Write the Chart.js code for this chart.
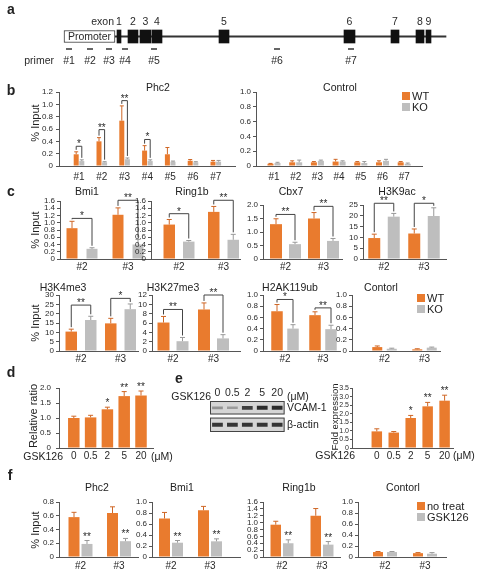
<!DOCTYPE html>
<html>
<head>
<meta charset="utf-8">
<script src="https://cdn.jsdelivr.net/npm/chart.js@4.4.0/dist/chart.umd.min.js"></script>
<style>
  html, body { margin: 0; background: #fff; overflow: hidden; }
  #fig { position: relative; width: 479px; height: 577px; font-family: "Liberation Sans", Arial, sans-serif; color: #222; }
  #fig canvas { position: absolute; }
  .t { position: absolute; white-space: nowrap; line-height: 1; }
  .sq { position: absolute; width: 8px; height: 8px; }
</style>
</head>
<body>
<div id="fig"></div>
<script>
// ---------- data ----------
const primers = ['#1', '#2', '#3', '#4', '#5', '#6', '#7'];
const sites = ['#2', '#3'];
const doses = ['0', '0.5', '2', '5', '20'];

// a: locus map (locus units)
const exonNames = ['1', '2', '3', '4', '5', '6', '7', '8', '9'];
const exonStart = [117, 128, 140, 152, 219, 344, 391, 416, 426];
const exonEnd   = [121, 138, 151, 162, 229, 355, 399, 424, 431];
const promoterSpan = [64, 115];
const locusSpan = [115, 446];
const primerPos = [69, 90, 109, 125, 154, 277, 351];

// b: % input along the locus
const phc2WT     = [0.19, 0.40, 0.735, 0.25, 0.19, 0.085, 0.07];
const phc2WTErr  = [0.04, 0.06, 0.24, 0.08, 0.11, 0.02, 0.02];
const phc2KO     = [0.08, 0.06, 0.11, 0.08, 0.07, 0.06, 0.07];
const phc2KOErr  = [0.02, 0.01, 0.02, 0.02, 0.01, 0.01, 0.02];
const phc2Sig    = ['*', '**', '**', '*', '', '', ''];
const phc2Bracket = [0.32, 0.59, 1.06, 0.43, null, null, null];
const ctlWT      = [0.03, 0.05, 0.05, 0.06, 0.05, 0.05, 0.05];
const ctlWTErr   = [0.005, 0.02, 0.01, 0.03, 0.01, 0.02, 0.01];
const ctlKO      = [0.04, 0.05, 0.07, 0.06, 0.04, 0.07, 0.03];
const ctlKOErr   = [0.01, 0.03, 0.01, 0.01, 0.02, 0.02, 0.01];

// c: marks at primers #2 / #3
const cMarks   = ['Bmi1', 'Ring1b', 'Cbx7', 'H3K9ac', 'H3K4me3', 'H3K27me3', 'H2AK119ub', 'Contorl'];
const cWT      = [[0.85, 1.22], [0.95, 1.30], [1.29, 1.50], [9.7, 11.8], [10.4, 14.8], [6.1, 8.9], [0.71, 0.64], [0.07, 0.03]];
const cWTErr   = [[0.19, 0.19], [0.14, 0.15], [0.20, 0.22], [1.8, 2.1], [1.3, 2.7], [1.3, 1.4], [0.12, 0.06], [0.02, 0.01]];
const cKO      = [[0.28, 0.40], [0.48, 0.53], [0.55, 0.67], [19.6, 19.9], [16.6, 22.4], [2.1, 2.7], [0.40, 0.39], [0.04, 0.06]];
const cKOErr   = [[0.03, 0.14], [0.03, 0.15], [0.07, 0.09], [1.5, 3.8], [2.0, 2.8], [0.8, 0.8], [0.07, 0.07], [0.01, 0.01]];
const cSig     = [['*', '**'], ['*', '**'], ['**', '**'], ['**', '*'], ['**', '*'], ['**', '**'], ['*', '**'], ['', '']];
const cBracket = [[1.12, 1.62], [1.25, 1.62], [1.65, 1.95], [25.8, 25.8], [24.6, 28.2], [8.9, 12], [0.92, 0.77], [null, null]];
const cAxisMax  = [1.6, 1.6, 2, 25, 30, 12, 1, 1];
const cAxisStep = [0.2, 0.2, 0.5, 5, 5, 2, 0.2, 0.2];

// d / e: GSK126 dose response
const ratio    = [1.00, 1.02, 1.29, 1.73, 1.75];
const ratioErr = [0.06, 0.07, 0.07, 0.15, 0.15];
const ratioSig = ['', '', '*', '**', '**'];
const fold     = [0.97, 0.90, 1.75, 2.43, 2.76];
const foldErr  = [0.15, 0.06, 0.15, 0.23, 0.32];
const foldSig  = ['', '', '*', '**', '**'];
const vcamBand  = [0.35, 0.30, 0.80, 0.90, 0.90];
const actinBand = [0.85, 0.85, 0.85, 0.85, 0.85];

// f: no treat vs GSK126
const fTargets    = ['Phc2', 'Bmi1', 'Ring1b', 'Contorl'];
const fNoTreat    = [[0.58, 0.64], [0.70, 0.85], [0.94, 1.20], [0.09, 0.07]];
const fNoTreatErr = [[0.07, 0.09], [0.11, 0.07], [0.10, 0.21], [0.01, 0.01]];
const fGSK        = [[0.19, 0.23], [0.26, 0.285], [0.40, 0.36], [0.09, 0.06]];
const fGSKErr     = [[0.05, 0.04], [0.04, 0.045], [0.10, 0.09], [0.01, 0.02]];
const fSig        = [['**', '**'], ['**', '**'], ['**', '**'], ['', '']];
const fAxisMax    = [0.8, 1, 1.6, 1];

// ---------- styling / layout ----------
const ORANGE = '#E97B2E', GREY = '#BEBEBE', ORANGE_ERR = '#CF6726', GREY_ERR = '#999';
const AXIS = '#555', INK = '#2a2a2a';
const FONT = '"Liberation Sans", Arial, sans-serif';
const YW = 26, PT = 22, PR = 4, XH = 20;
const fig = document.getElementById('fig');

function mk(x, y, w, h) {
  const c = document.createElement('canvas');
  w = Math.round(w); h = Math.round(h);
  c.width = w; c.height = h;
  c.style.left = Math.round(x) + 'px'; c.style.top = Math.round(y) + 'px';
  c.style.width = w + 'px'; c.style.height = h + 'px';
  fig.appendChild(c);
  return c;
}

function txt(s, x, y, size, opt) {
  opt = opt || {};
  const d = document.createElement('div');
  d.className = 't';
  d.textContent = s;
  d.style.left = x + 'px';
  d.style.top = y + 'px';
  d.style.fontSize = size + 'px';
  if (opt.bold) d.style.fontWeight = 'bold';
  const ax = opt.align === 'l' ? '0' : opt.align === 'r' ? '-100%' : '-50%';
  d.style.transform = 'translate(' + ax + ',-50%)' + (opt.rot ? ' rotate(-90deg)' : '');
  fig.appendChild(d);
}

function legend(x, y, items) {
  items.forEach((it, i) => {
    const s = document.createElement('div');
    s.className = 'sq';
    s.style.left = x + 'px';
    s.style.top = (y + i * 10.5 - 4) + 'px';
    s.style.background = it[1];
    fig.appendChild(s);
    txt(it[0], x + 10, y + i * 10.5, 11, { align: 'l' });
  });
}

// error bars, brackets and stars
function marksPlugin(o) {
  return {
    id: 'marks',
    afterDatasetsDraw(chart) {
      const ctx = chart.ctx, y = chart.scales.y;
      const topOf = (k, i) => y.getPixelForValue(o.series[k].data[i] + (o.series[k].err[i] || 0));
      ctx.save();
      ctx.lineWidth = 1;
      o.series.forEach((s, k) => {
        chart.getDatasetMeta(k).data.forEach((bar, i) => {
          if (!s.err[i]) return;
          const t = topOf(k, i), cap = o.cap || 2.5;
          ctx.strokeStyle = s.errColor;
          ctx.beginPath();
          ctx.moveTo(bar.x, bar.y); ctx.lineTo(bar.x, t);
          ctx.moveTo(bar.x - cap, t); ctx.lineTo(bar.x + cap, t);
          ctx.stroke();
        });
      });
      if (o.sig) {
        ctx.fillStyle = INK;
        ctx.font = '10px ' + FONT;
        ctx.textAlign = 'center';
        ctx.textBaseline = 'alphabetic';
        o.sig.forEach((s, i) => {
          if (!s) return;
          if (o.bracket) {
            const a = chart.getDatasetMeta(0).data[i], b = chart.getDatasetMeta(1).data[i];
            const yb = y.getPixelForValue(o.bracket[i]);
            ctx.strokeStyle = '#444';
            ctx.beginPath();
            ctx.moveTo(a.x, topOf(0, i) - 2);
            ctx.lineTo(a.x, yb);
            ctx.lineTo(b.x, yb);
            ctx.lineTo(b.x, topOf(1, i) - 2);
            ctx.stroke();
            ctx.fillText(s, (a.x + b.x) / 2, yb + 1);
          } else {
            const k = o.starOn || 0;
            const bar = chart.getDatasetMeta(k).data[i];
            ctx.fillText(s, bar.x, topOf(k, i) - 1);
          }
        });
      }
      ctx.restore();
    }
  };
}

function barChart(o) {
  const n = o.cats.length, ns = o.series.length;
  const chunk = o.chunk || o.barW;
  const last = o.first + (n - 1) * o.spacing;
  const xmin = 1 - (o.first - o.x0) / o.spacing;
  const xmax = n + (o.x1 - last) / o.spacing;
  const cv = mk(o.x0 - YW, o.yTop - PT, o.x1 - o.x0 + YW + PR, o.yBot - o.yTop + PT + XH);
  const dec = o.step < 1 ? 1 : 0;
  return new Chart(cv, {
    type: 'bar',
    data: {
      datasets: o.series.map(s => ({
        label: s.name,
        data: s.data.map((v, i) => ({ x: i + 1, y: v })),
        backgroundColor: s.color,
        borderWidth: 0,
        categoryPercentage: ns * chunk / o.spacing,
        barPercentage: o.barW / chunk
      }))
    },
    options: {
      responsive: false, animation: false, devicePixelRatio: 1, events: [],
      layout: { padding: { top: PT, right: PR, left: 0, bottom: 0 } },
      plugins: { legend: { display: false }, tooltip: { enabled: false } },
      scales: {
        x: {
          type: 'linear', min: xmin, max: xmax, offset: false, bounds: 'data',
          afterBuildTicks: s => { s.ticks = o.cats.map((c, i) => ({ value: i + 1 })); },
          afterFit: s => { s.height = XH; },
          grid: { display: false, drawTicks: false },
          border: { display: true, color: AXIS, width: 1 },
          ticks: {
            autoSkip: false, maxRotation: 0, padding: o.pad, color: INK,
            font: { family: FONT, size: 10 },
            callback: v => o.cats[Math.round(v) - 1]
          }
        },
        y: {
          min: 0, max: o.max,
          afterFit: s => { s.width = YW; },
          grid: { drawOnChartArea: false, tickLength: o.tickLen || 3, color: AXIS },
          border: { color: AXIS, width: 1 },
          ticks: {
            stepSize: o.step, autoSkip: false, padding: o.yPad === undefined ? 2 : o.yPad, color: INK,
            font: { family: FONT, size: o.yFont || 8 },
            callback: v => v === 0 ? '0' : Number(v).toFixed(dec)
          }
        }
      }
    },
    plugins: [marksPlugin(o)]
  });
}

const wtKo = (wt, wtE, ko, koE) => [
  { name: 'WT', data: wt, err: wtE, color: ORANGE, errColor: ORANGE_ERR },
  { name: 'KO', data: ko, err: koE, color: GREY, errColor: GREY_ERR }
];

// ---------- a: locus map ----------
const geneLabels = {
  id: 'geneLabels',
  afterDatasetsDraw(chart) {
    const ctx = chart.ctx, x = chart.scales.x, a = chart.chartArea;
    const cy = (a.top + a.bottom) / 2;
    ctx.save();
    ctx.fillStyle = INK;
    ctx.font = '10.5px ' + FONT;
    ctx.textBaseline = 'middle';
    ctx.textAlign = 'center';
    exonNames.forEach((nm, i) => ctx.fillText(nm, x.getPixelForValue((exonStart[i] + exonEnd[i]) / 2), cy - 14));
    ctx.textAlign = 'right';
    ctx.fillText('exon', x.getPixelForValue(exonStart[0]) - 3, cy - 14);
    ctx.textAlign = 'center';
    ctx.fillText('Promoter', x.getPixelForValue((promoterSpan[0] + promoterSpan[1]) / 2), cy + 0.5);
    ctx.strokeStyle = '#333';
    ctx.lineWidth = 1.5;
    primerPos.forEach((p, i) => {
      const px = x.getPixelForValue(p);
      ctx.beginPath(); ctx.moveTo(px - 3, cy + 12.5); ctx.lineTo(px + 3, cy + 12.5); ctx.stroke();
      ctx.fillText(primers[i], px, cy + 24.5);
    });
    ctx.textAlign = 'right';
    ctx.fillText('primer', x.getPixelForValue(primerPos[0]) - 15, cy + 24.5);
    ctx.restore();
  }
};
new Chart(mk(0, 0, 479, 73), {
  type: 'bar',
  data: {
    labels: ['locus'],
    datasets: [
      ...exonStart.map((s, i) => ({ label: 'exon ' + exonNames[i], data: [[s, exonEnd[i]]], backgroundColor: '#111', barThickness: 13, grouped: false, order: 1 })),
      { label: 'Promoter', data: [promoterSpan], backgroundColor: '#fff', borderColor: '#333', borderWidth: 1, borderSkipped: false, barThickness: 12, grouped: false, order: 2 },
      { label: 'gene', data: [locusSpan], backgroundColor: '#333', barThickness: 1.5, grouped: false, order: 3 }
    ]
  },
  options: {
    indexAxis: 'y', responsive: false, animation: false, devicePixelRatio: 1, events: [],
    layout: { padding: 0 },
    plugins: { legend: { display: false }, tooltip: { enabled: false } },
    scales: { x: { type: 'linear', min: 0, max: 479, display: false }, y: { display: false } }
  },
  plugins: [geneLabels]
});

// ---------- b ----------
barChart({ x0: 59, x1: 235, yTop: 92, yBot: 166, max: 1.2, step: 0.2, cats: primers, first: 79, spacing: 22.8,
  barW: 5, chunk: 5.6, cap: 2, pad: 5, yPad: 3, series: wtKo(phc2WT, phc2WTErr, phc2KO, phc2KOErr), sig: phc2Sig, bracket: phc2Bracket });
barChart({ x0: 256, x1: 422, yTop: 92, yBot: 166, max: 1.0, step: 0.2, cats: primers, first: 274, spacing: 21.7,
  barW: 6, chunk: 7, cap: 2, pad: 5, series: wtKo(ctlWT, ctlWTErr, ctlKO, ctlKOErr) });
txt('Phc2', 158, 87, 10.5);
txt('Control', 340, 87, 10.5);
legend(402, 96, [['WT', ORANGE], ['KO', GREY]]);
txt('% Input', 35, 123, 11, { rot: true });

// ---------- c ----------
const cLayout = [
  { x0: 60, x1: 148, yTop: 201, yBot: 259, first: 82, spacing: 46, barW: 11, chunk: 20, tx: 87, ty: 191 },
  { x0: 151, x1: 240, yTop: 201, yBot: 259, first: 179, spacing: 44.5, barW: 11.5, chunk: 19.5, tx: 192, ty: 191 },
  { x0: 263, x1: 342, yTop: 205, yBot: 259, first: 285.5, spacing: 38, barW: 12, chunk: 19, tx: 291, ty: 191 },
  { x0: 363, x1: 446, yTop: 205, yBot: 259, first: 384, spacing: 40, barW: 12, chunk: 19.5, tx: 397, ty: 191 },
  { x0: 59, x1: 138, yTop: 295, yBot: 351, first: 81, spacing: 39.5, barW: 11.5, chunk: 19.5, tx: 63, ty: 287 },
  { x0: 152, x1: 240, yTop: 295, yBot: 351, first: 173, spacing: 40.5, barW: 12, chunk: 19, tx: 173, ty: 287 },
  { x0: 263, x1: 340, yTop: 295, yBot: 351, first: 285, spacing: 38, barW: 11.5, chunk: 16, tx: 290, ty: 287 },
  { x0: 352, x1: 440, yTop: 295, yBot: 351, first: 384.5, spacing: 40, barW: 10, chunk: 14.5, tx: 381, ty: 287 }
];
cMarks.forEach((m, k) => {
  const L = cLayout[k];
  barChart(Object.assign({}, L, {
    max: cAxisMax[k], step: cAxisStep[k], cats: sites, pad: 2,
    series: wtKo(cWT[k], cWTErr[k], cKO[k], cKOErr[k]),
    sig: cSig[k], bracket: cBracket[k]
  }));
  txt(m, L.tx, L.ty, 10.5);
});
txt('% Input', 35, 230, 11, { rot: true });
txt('% Input', 35, 323, 11, { rot: true });
legend(417, 298, [['WT', ORANGE], ['KO', GREY]]);

// ---------- d ----------
barChart({ x0: 59, x1: 153, yTop: 388, yBot: 448, max: 2, step: 0.5, cats: doses, first: 73.8, spacing: 16.8,
  barW: 11.5, pad: 2, yPad: 5, series: [{ name: 'ratio', data: ratio, err: ratioErr, color: ORANGE, errColor: ORANGE_ERR }], sig: ratioSig });
txt('Relative ratio', 33, 416, 11, { rot: true });
txt('GSK126', 63, 456, 10.5, { align: 'r' });
txt('(\u03bcM)', 151, 456, 10.5, { align: 'l' });

// ---------- e: blot ----------
const blotFrame = {
  id: 'blotFrame',
  beforeDatasetsDraw(chart) {
    const ctx = chart.ctx, y = chart.scales.y, a = chart.chartArea;
    ctx.save();
    [[1.13, 2], [0, 0.93]].forEach(r => {
      const t = y.getPixelForValue(r[1]), b = y.getPixelForValue(r[0]);
      ctx.fillStyle = '#d5d5d5';
      ctx.fillRect(a.left, t, a.right - a.left, b - t);
      ctx.strokeStyle = '#444';
      ctx.lineWidth = 1;
      ctx.strokeRect(a.left + 0.5, t + 0.5, a.right - a.left - 1, b - t - 1);
    });
    ctx.restore();
  }
};
const band = (c, v) => [c - (0.06 + 0.08 * v), c + (0.06 + 0.08 * v)];
new Chart(mk(210, 388, 75, 44), {
  type: 'bar',
  data: {
    labels: doses,
    datasets: [
      { label: 'VCAM-1', data: vcamBand.map(v => band(1.56, v)), backgroundColor: vcamBand.map(v => 'rgba(25,25,25,' + v + ')'), grouped: false, categoryPercentage: 1, barPercentage: 0.72 },
      { label: '\u03b2-actin', data: actinBand.map(v => band(0.47, v)), backgroundColor: actinBand.map(v => 'rgba(25,25,25,' + v + ')'), grouped: false, categoryPercentage: 1, barPercentage: 0.72 }
    ]
  },
  options: {
    responsive: false, animation: false, devicePixelRatio: 1, events: [],
    layout: { padding: 0 },
    plugins: { legend: { display: false }, tooltip: { enabled: false } },
    scales: {
      x: { position: 'top', grid: { display: false, drawTicks: false }, border: { display: false },
           afterFit: s => { s.height = 13; },
           ticks: { padding: 2, color: INK, font: { family: FONT, size: 10.5 }, maxRotation: 0, autoSkip: false } },
      y: { min: 0, max: 2, display: false }
    }
  },
  plugins: [blotFrame]
});
txt('GSK126', 211, 396, 10.5, { align: 'r' });
txt('(\u03bcM)', 287, 396, 10.5, { align: 'l' });
txt('VCAM-1', 287, 407, 10.5, { align: 'l' });
txt('\u03b2-actin', 287, 424, 10.5, { align: 'l' });

// ---------- e: fold expression ----------
barChart({ x0: 352, x1: 453, yTop: 388, yBot: 448, max: 3.5, step: 0.5, cats: doses, first: 376.8, spacing: 16.95,
  barW: 10.5, pad: 2, tickLen: 2, yPad: 1, yFont: 7, series: [{ name: 'fold', data: fold, err: foldErr, color: ORANGE, errColor: ORANGE_ERR }], sig: foldSig });
txt('Fold expression', 335, 417, 9.5, { rot: true });
txt('GSK126', 355, 455, 10.5, { align: 'r' });
txt('(\u03bcM)', 453, 455, 10.5, { align: 'l' });

// ---------- f ----------
const fLayout = [
  { x0: 59, x1: 138, first: 80.5, spacing: 38.5, barW: 11, chunk: 13, tx: 97 },
  { x0: 152, x1: 240, first: 171, spacing: 39, barW: 11, chunk: 13, tx: 182 },
  { x0: 263, x1: 340, first: 282, spacing: 40, barW: 10.5, chunk: 12.5, tx: 299 },
  { x0: 358, x1: 446, first: 385, spacing: 40, barW: 10, chunk: 14, tx: 403 }
];
fTargets.forEach((t, k) => {
  const L = fLayout[k];
  barChart(Object.assign({}, L, {
    yTop: 502, yBot: 557, max: fAxisMax[k], step: 0.2, cats: sites, pad: 3,
    series: [
      { name: 'no treat', data: fNoTreat[k], err: fNoTreatErr[k], color: ORANGE, errColor: ORANGE_ERR },
      { name: 'GSK126', data: fGSK[k], err: fGSKErr[k], color: GREY, errColor: GREY_ERR }
    ],
    sig: fSig[k], starOn: 1
  }));
  txt(t, L.tx, 487, 10.5);
});
txt('% Input', 35, 530, 11, { rot: true });
legend(417, 506, [['no treat', ORANGE], ['GSK126', GREY]]);

// ---------- panel letters ----------
[['a', 11, 9], ['b', 11, 90], ['c', 11, 191], ['d', 11, 372], ['e', 179, 378], ['f', 10, 475]]
  .forEach(p => txt(p[0], p[1], p[2], 14, { bold: true }));
</script>
</body>
</html>
